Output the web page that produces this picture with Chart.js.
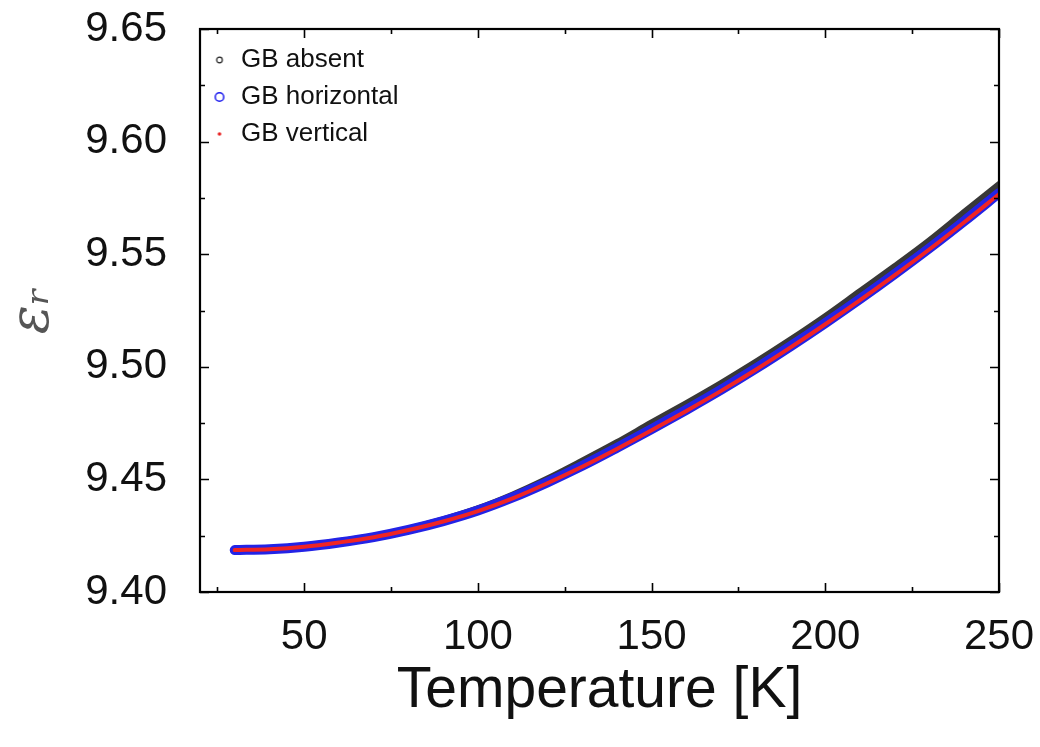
<!DOCTYPE html>
<html>
<head>
<meta charset="utf-8">
<script src="https://cdn.jsdelivr.net/npm/chart.js@4/dist/chart.umd.min.js"></script>
<style>
  html, body { margin: 0; padding: 0; background: #fff; }
  #wrap { width: 1040px; height: 747px; }
</style>
</head>
<body>
<div id="wrap"><canvas id="myChart" width="1040" height="747"></canvas></div>
<script>
const temperature = [30, 40, 50, 60, 70, 80, 90, 100, 110, 120, 130, 140, 150, 160, 170, 180, 190, 200, 210, 220, 230, 240, 250];

const gbAbsent = [9.4187, 9.4191, 9.4202, 9.4221, 9.4244, 9.4277, 9.4318, 9.4367, 9.4428, 9.4499, 9.4578, 9.4660,
    9.4748, 9.4834, 9.4923, 9.5017, 9.5116, 9.5220, 9.5331, 9.5442, 9.5557, 9.5682, 9.5806];
const gbHorizontal = [9.4186, 9.4190, 9.4201, 9.4220, 9.4244, 9.4276, 9.4315, 9.4362, 9.4420, 9.4487, 9.4560, 9.4640,
    9.4723, 9.4809, 9.4898, 9.4992, 9.5091, 9.5194, 9.5301, 9.5412, 9.5527, 9.5647, 9.5771];
const gbVertical = [9.4186, 9.4190, 9.4201, 9.4220, 9.4243, 9.4275, 9.4313, 9.4359, 9.4416, 9.4483, 9.4556, 9.4635,
    9.4718, 9.4804, 9.4893, 9.4987, 9.5086, 9.5189, 9.5296, 9.5407, 9.5522, 9.5642, 9.5766];

const seriesNames = ['GB absent', 'GB horizontal', 'GB vertical'];

const xTicks = [25, 50, 75, 100, 125, 150, 175, 200, 225, 250];
const yTicks = [9.40, 9.425, 9.45, 9.475, 9.50, 9.525, 9.55, 9.575, 9.60, 9.625, 9.65];

const font = 'Liberation Sans';

// small canvases used as legend markers
function marker(size, draw) {
    const c = document.createElement('canvas');
    c.width = size;
    c.height = size;
    draw(c.getContext('2d'), size / 2);
    return c;
}
const markers = [
    marker(10, (ctx, m) => {
        ctx.beginPath();
        ctx.arc(m, m, 2.8, 0, Math.PI * 2);
        ctx.lineWidth = 1.2;
        ctx.strokeStyle = '#222';
        ctx.stroke();
    }),
    marker(14, (ctx, m) => {
        ctx.beginPath();
        ctx.arc(m, m, 4.3, 0, Math.PI * 2);
        ctx.lineWidth = 1.5;
        ctx.strokeStyle = '#1a1aee';
        ctx.stroke();
    }),
    marker(6, (ctx, m) => {
        ctx.beginPath();
        ctx.arc(m, m, 1.8, 0, Math.PI * 2);
        ctx.fillStyle = '#e82020';
        ctx.fill();
    }),
];

// gnuplot style frame with inward ticks on all four sides
const frameTicks = {
    id: 'frameTicks',
    afterDraw(chart) {
        const {ctx, chartArea: a, scales} = chart;
        ctx.save();
        ctx.strokeStyle = '#000';
        ctx.lineWidth = 1.6;
        ctx.beginPath();
        xTicks.forEach((v) => {
            const px = Math.round(scales.x.getPixelForValue(v)) + 0.5;
            const len = v % 50 === 0 ? 9 : 5;
            ctx.moveTo(px, a.bottom);
            ctx.lineTo(px, a.bottom - len);
            ctx.moveTo(px, a.top);
            ctx.lineTo(px, a.top + len);
        });
        yTicks.forEach((v, i) => {
            const py = Math.round(scales.y.getPixelForValue(v)) + 0.5;
            const len = i % 2 === 0 ? 9 : 5;
            ctx.moveTo(a.left, py);
            ctx.lineTo(a.left + len, py);
            ctx.moveTo(a.right, py);
            ctx.lineTo(a.right - len, py);
        });
        ctx.stroke();
        ctx.lineWidth = 2.2;
        ctx.strokeRect(a.left, a.top, a.right - a.left, a.bottom - a.top);
        ctx.restore();
    },
};

const data = {
    datasets: [
        {
            label: seriesNames[0],
            data: temperature.map((t, i) => ({x: t, y: gbAbsent[i]})),
            borderColor: '#383838',
            borderWidth: 8,
            order: 3,
        },
        {
            label: seriesNames[1],
            data: temperature.map((t, i) => ({x: t, y: gbHorizontal[i]})),
            borderColor: '#2323e6',
            borderWidth: 10,
            order: 2,
        },
        {
            label: seriesNames[2],
            data: temperature.map((t, i) => ({x: t, y: gbVertical[i]})),
            borderColor: '#f02424',
            borderWidth: 4,
            order: 1,
        },
    ],
};

const config = {
    type: 'scatter',
    data: data,
    plugins: [frameTicks],
    options: {
        responsive: false,
        animation: false,
        showLine: true,
        layout: {
            padding: {left: 0, right: 41, top: 29, bottom: 0},
        },
        elements: {
            point: {radius: 0, hoverRadius: 0},
            line: {
                cubicInterpolationMode: 'monotone',
                borderCapStyle: 'round',
                borderJoinStyle: 'round',
                fill: false,
            },
        },
        plugins: {
            tooltip: {enabled: false},
            legend: {
                position: 'chartArea',
                align: 'start',
                title: {
                    display: true,
                    text: ' ',
                    font: {family: font, size: 20, lineHeight: 1},
                    padding: 8,
                },
                labels: {
                    usePointStyle: true,
                    boxWidth: 17,
                    boxHeight: 10,
                    padding: 11,
                    color: '#111',
                    font: {family: font, size: 26, lineHeight: 1},
                    generateLabels: (chart) => chart.data.datasets.map((ds, i) => ({
                        text: ds.label,
                        pointStyle: markers[i],
                        fillStyle: ds.borderColor,
                        strokeStyle: ds.borderColor,
                        lineWidth: 0,
                        hidden: false,
                        datasetIndex: i,
                        fontColor: '#111',
                    })),
                },
            },
        },
        scales: {
            x: {
                type: 'linear',
                min: 20,
                max: 250,
                grid: {display: false, drawTicks: false},
                border: {display: false},
                afterBuildTicks: (scale) => {
                    scale.ticks = xTicks.map((v) => ({value: v}));
                },
                afterFit: (scale) => {
                    scale.height = 155;
                    scale.paddingLeft = 0;
                    scale.paddingRight = 0;
                },
                ticks: {
                    autoSkip: false,
                    maxRotation: 0,
                    padding: 20,
                    color: '#111',
                    font: {family: font, size: 42},
                    callback: (value) => (value % 50 === 0 ? String(value) : ''),
                },
                title: {
                    display: true,
                    text: 'Temperature [K]',
                    color: '#111',
                    font: {family: font, size: 57},
                    padding: {top: 0, bottom: 22},
                },
            },
            y: {
                type: 'linear',
                min: 9.40,
                max: 9.65,
                grid: {display: false, drawTicks: false},
                border: {display: false},
                afterBuildTicks: (scale) => {
                    scale.ticks = yTicks.map((v) => ({value: v}));
                },
                afterFit: (scale) => {
                    scale.width = 200;
                    scale.paddingTop = 0;
                    scale.paddingBottom = 0;
                },
                ticks: {
                    autoSkip: false,
                    padding: 33,
                    color: '#111',
                    font: {family: font, size: 42},
                    callback: (value, index) => (index % 2 === 0 ? value.toFixed(2) : ''),
                },
                title: {
                    display: true,
                    text: 'εᵣ',
                    color: '#555',
                    font: {family: 'DejaVu Serif', size: 54, style: 'italic'},
                    padding: {top: 2, bottom: 0},
                },
            },
        },
    },
};

const myChart = new Chart(document.getElementById('myChart'), config);
</script>
</body>
</html>
